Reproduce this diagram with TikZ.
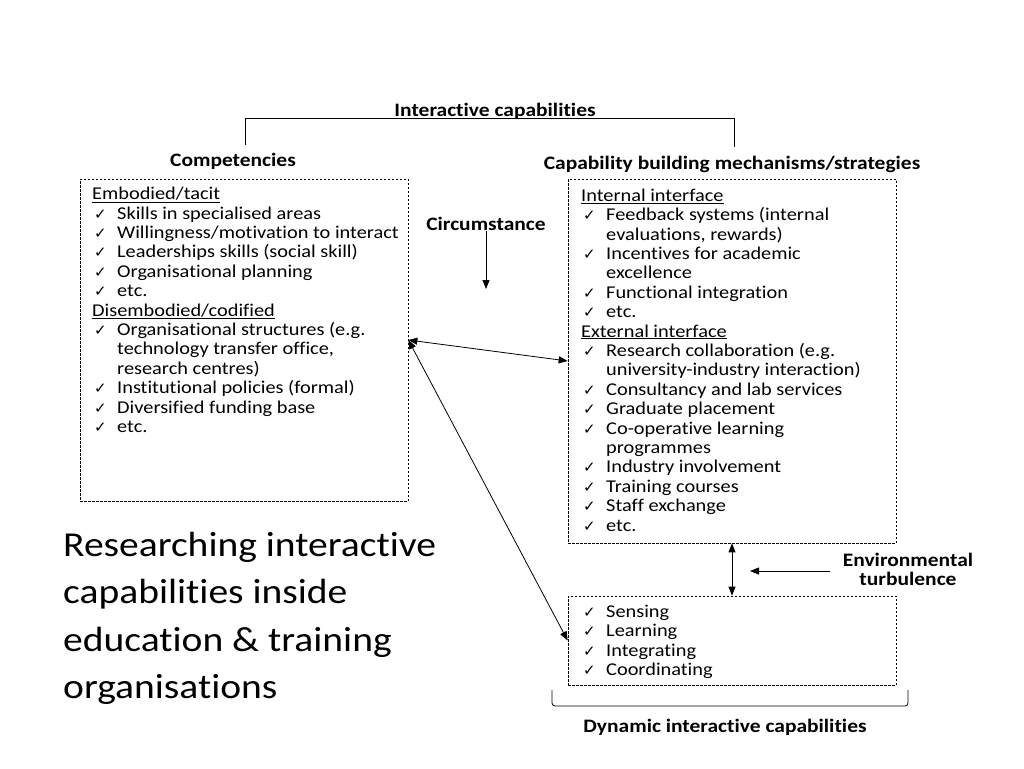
\documentclass[tikz,border=0pt]{standalone}
\usepackage{fontspec}
\setmainfont{Carlito}[FakeStretch=1.13, Ligatures=NoCommon]
\newfontfamily\symfont{DejaVu Sans}
\usetikzlibrary{arrows.meta, positioning}

% check mark and hanging indent for the lists
\newcommand{\chk}{\hspace*{2pt}\makebox[23pt][l]{\symfont\fontsize{15}{15}\selectfont ✓}}
\newcommand{\cont}{\hspace*{25pt}}

\begin{document}
\begin{tikzpicture}[x=1pt, y=-1pt,
    box/.style={draw, dash pattern=on 2.5pt off 1.5pt, line width=0.7pt, inner sep=0pt},
    heading/.style={font=\bfseries\fontsize{19}{19}\selectfont, inner sep=1pt},
    items/.style={font=\fontsize{18}{19.4}\selectfont, align=left, anchor=north west, inner sep=0pt},
    title/.style={font=\fontsize{35}{47.5}\selectfont, align=left, anchor=north west, inner sep=0pt},
    arr/.style={-{Triangle[length=9pt,width=7pt]}, line width=0.8pt},
    link/.style={{Triangle[length=9pt,width=7pt]}-{Triangle[length=9pt,width=7pt]}, line width=0.8pt}]

    \useasboundingbox[fill=white] (0,0) rectangle (1024,768);

    % boxes
    \node[box, minimum width=328, minimum height=322] (lbox) at (244,340) {};
    \node[box, minimum width=328, minimum height=364] (rbox) at (732,361) {};
    \node[box, minimum width=328, minimum height=89] (bbox) at (732,640.5) {};

    % headings
    \node[heading] (icap) at (495,111) {Interactive capabilities};
    \node[heading] (comp) at (233,161) {Competencies};
    \node[heading] (cbm) at (732,164) {Capability building mechanisms/strategies};
    \node[heading] (circ) at (486,223.5) {Circumstance};
    \node[heading, align=center] (env) at (908,569.5) {Environmental\\turbulence};
    \node[heading] (dic) at (725,727.5) {Dynamic interactive capabilities};

    % lists
    \node[items] (ltext) at (92,187) {%
        \underline{Embodied/tacit}\\
        \chk Skills in specialised areas\\
        \chk Willingness/motivation to interact\\
        \chk Leaderships skills (social skill)\\
        \chk Organisational planning\\
        \chk etc.\\
        \underline{Disembodied/codified}\\
        \chk Organisational structures (e.g.\\
        \cont technology transfer office,\\
        \cont research centres)\\
        \chk Institutional policies (formal)\\
        \chk Diversified funding base\\
        \chk etc.};
    \node[items] (rtext) at (581,188.5) {%
        \underline{Internal interface}\\
        \chk Feedback systems (internal\\
        \cont evaluations, rewards)\\
        \chk Incentives for academic\\
        \cont excellence\\
        \chk Functional integration\\
        \chk etc.\\
        \underline{External interface}\\
        \chk Research collaboration (e.g.\\
        \cont university-industry interaction)\\
        \chk Consultancy and lab services\\
        \chk Graduate placement\\
        \chk Co-operative learning\\
        \cont programmes\\
        \chk Industry involvement\\
        \chk Training courses\\
        \chk Staff exchange\\
        \chk etc.};
    \node[items] (btext) at (581,605) {%
        \chk Sensing\\
        \chk Learning\\
        \chk Integrating\\
        \chk Coordinating};

    \node[title] (ttl) at (63,531.5) {Researching interactive\\capabilities inside\\education \& training\\organisations};

    % brackets
    \coordinate (tl) at (245,145);
    \coordinate (tr) at (734,147);
    \draw[line width=0.8pt] (tl) -- (245,118) -- (734,118) -- (tr);
    \coordinate (bl) at (552,690);
    \coordinate (br) at (908,690);
    \draw[line width=0.8pt, rounded corners=3pt] (bl) -- (552,706) -- (908,706) -- (br);

    % arrows
    \coordinate (cend) at (486,289);
    \draw[arr] (circ.south) -- (cend);
    \coordinate (eend) at (750,571);
    \draw[arr] ([xshift=-12]env.west |- eend) -- (eend);
    \draw[link] (lbox.east) -- (rbox.west);
    \draw[link] (lbox.east) -- (bbox.west);
    \draw[link] (rbox.south) -- (bbox.north);

\end{tikzpicture}
\end{document}
